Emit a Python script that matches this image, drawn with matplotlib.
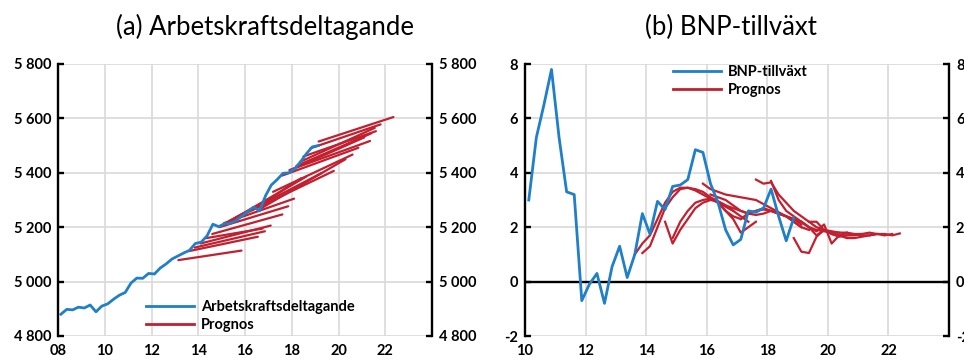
import numpy as np
import matplotlib
matplotlib.use("Agg")
import matplotlib.pyplot as plt
from matplotlib.ticker import FuncFormatter

# ---------------- data ----------------
# (a) Labour force, thousands, quarterly (first quarter 2008Q1)
ak_start = 2008.125
ak_values = [4880, 4898, 4896, 4906, 4903, 4914, 4889, 4910,
             4918, 4935, 4950, 4960, 4995, 5013, 5012, 5030,
             5028, 5050, 5065, 5083, 5094, 5105, 5115, 5140,
             5145, 5168, 5211, 5202, 5213, 5214, 5225, 5242,
             5258, 5274, 5260, 5315, 5355, 5375, 5398, 5400,
             5415, 5440, 5470, 5495, 5500]

# Forecast vintages for (a): start/end year and level
ak_fc_start_year = [2013.15, 2013.60, 2013.85, 2014.10, 2014.35, 2014.60, 2014.90,
                    2015.10, 2015.30, 2015.40, 2015.60, 2016.00, 2016.30, 2016.60,
                    2017.20, 2017.60, 2017.90, 2018.20, 2018.50, 2018.80, 2019.15,
                    2018.00, 2018.35]
ak_fc_start_val = [5079, 5112, 5125, 5140, 5160, 5175, 5200,
                   5215, 5222, 5225, 5235, 5250, 5262, 5265,
                   5330, 5390, 5410, 5425, 5460, 5490, 5515,
                   5412, 5440]
ak_fc_end_year = [2015.85, 2016.55, 2016.85, 2017.10, 2016.75, 2017.60, 2017.85,
                  2018.10, 2016.90, 2018.60, 2019.30, 2019.80, 2018.40, 2020.30,
                  2020.60, 2020.85, 2021.35, 2021.40, 2021.60, 2021.80, 2022.35,
                  2021.10, 2021.55]
ak_fc_end_val = [5114, 5165, 5185, 5206, 5195, 5247, 5277,
                 5305, 5295, 5385, 5400, 5407, 5380, 5450,
                 5467, 5492, 5517, 5545, 5553, 5578, 5605,
                 5530, 5565]

# (b) GDP growth, per cent, quarterly (first quarter 2010Q1)
bnp_start = 2010.125
bnp_values = [3.0, 5.3, 6.5, 7.8, 5.3, 3.3, 3.2, -0.7, -0.1, 0.3, -0.8, 0.55,
              1.3, 0.15, 1.0, 2.5, 1.75, 2.95, 2.65, 3.5, 3.55, 3.75, 4.85, 4.75,
              3.6, 2.9, 1.9, 1.35, 1.55, 2.6, 2.55, 2.7, 3.4, 2.4, 1.5, 2.35]

# Forecast vintages for (b): first quarter and quarterly path
bnp_fc_start = [2013.625, 2013.875, 2014.625, 2014.875, 2015.875, 2016.125,
                2016.375, 2017.125, 2017.625, 2018.125, 2018.875, 2019.125, 2019.375]
bnp_fc_paths = [
    [1.0, 1.4, 1.7, 2.3, 2.9, 3.3, 3.45, 3.45, 3.4, 3.3, 3.1, 2.95, 2.8, 2.7, 2.6, 2.5],
    [1.05, 1.3, 2.0, 2.7, 3.1, 3.4, 3.45, 3.35, 3.2, 3.05, 2.9, 2.75, 2.6],
    [2.2, 1.4, 1.9, 2.3, 2.7, 2.9, 3.0, 2.95, 2.8, 2.6, 2.4, 2.2],
    [1.6, 2.2, 2.6, 2.9, 3.0, 3.05, 2.9, 2.6, 2.3, 1.8, 2.0, 2.2],
    [3.6, 3.4, 3.3, 3.2, 3.15, 3.1, 3.05, 3.0, 2.85, 2.7, 2.55, 2.4, 2.2, 2.0],
    [3.2, 3.1, 3.0, 2.8, 2.6, 2.5, 2.45, 2.5, 2.6, 2.5, 2.4, 2.3, 2.1],
    [2.9, 2.6, 2.4, 2.3, 2.5, 2.6, 2.7, 2.6, 2.5, 2.4, 2.2, 2.0, 1.9],
    [2.3, 2.5, 2.6, 2.65, 2.6, 2.5, 2.4, 2.3, 2.2, 2.0, 1.9, 1.85, 1.8, 1.8],
    [3.75, 3.6, 3.65, 3.2, 2.9, 2.6, 2.4, 2.2, 2.0, 1.9, 1.85, 1.8, 1.8],
    [3.7, 3.0, 2.6, 2.4, 2.2, 2.0, 1.7, 1.9, 1.75, 1.65, 1.7, 1.75, 1.75],
    [1.6, 1.1, 1.05, 1.65, 1.9, 1.8, 1.7, 1.6, 1.6, 1.65, 1.7, 1.75],
    [2.2, 2.0, 1.85, 2.1, 1.4, 1.7, 1.8, 1.75, 1.7, 1.7, 1.75, 1.75, 1.7, 1.77],
    [2.2, 2.2, 1.9, 1.75, 1.7, 1.7, 1.7, 1.75, 1.8, 1.75, 1.7, 1.75],
]

ak_xticks = [2008, 2010, 2012, 2014, 2016, 2018, 2020, 2022]
bnp_xticks = [2010, 2012, 2014, 2016, 2018, 2020, 2022]

# ---------------- style ----------------
BLUE = "#1f7fc8"
RED = "#c0202f"
GRID = "#d9d9d9"
TICK_SIZE = 10.5
plt.rcParams["font.family"] = ["Lato", "DejaVu Sans"]

fig = plt.figure(figsize=(9.64, 3.6), dpi=100)
ax1 = fig.add_axes([58 / 964, 24 / 360, 374 / 964, 272 / 360])
ax2 = fig.add_axes([525 / 964, 24 / 360, 424 / 964, 272 / 360])


def style_axes(ax, xlim, ylim, xticks, yticks, fmt):
    ax.set_xlim(*xlim)
    ax.set_ylim(*ylim)
    ax.set_xticks(xticks)
    ax.set_xticklabels([f"{t % 100:02d}" for t in xticks])
    ax.set_yticks(yticks)
    ax.yaxis.set_major_formatter(FuncFormatter(fmt))
    ax.grid(True, color=GRID, linewidth=1.2)
    ax.set_axisbelow(True)
    for side in ("top", "bottom"):
        ax.spines[side].set_visible(False)
    for side in ("left", "right"):
        ax.spines[side].set_linewidth(1.7)
        ax.spines[side].set_color("black")
    ax.tick_params(axis="y", direction="in", length=4.5, width=1.7,
                   left=True, right=True, labelleft=True, labelright=True,
                   labelsize=TICK_SIZE, pad=5)
    ax.tick_params(axis="x", length=0, labelsize=TICK_SIZE, pad=6)
    for lab in ax.get_xticklabels() + ax.get_yticklabels():
        lab.set_fontweight("bold")


def thousands(v, pos):
    return f"{int(v):,}".replace(",", " ")


def plain(v, pos):
    return f"{int(v)}"


legend_kw = dict(frameon=False, handlelength=3.3, handletextpad=0.45,
                 labelspacing=0.3, prop={"weight": "bold", "size": 10.5})

# (a) Arbetskraftsdeltagande
style_axes(ax1, (2008, 2024), (4800, 5800), ak_xticks,
           np.arange(4800, 5801, 200), thousands)
for i in range(len(ak_fc_start_year)):
    ax1.plot([ak_fc_start_year[i], ak_fc_end_year[i]],
             [ak_fc_start_val[i], ak_fc_end_val[i]],
             color=RED, linewidth=1.6, solid_capstyle="round")
ak_x = ak_start + 0.25 * np.arange(len(ak_values))
ax1.plot(ak_x, ak_values, color=BLUE, linewidth=2.0)
h_blue, = ax1.plot([], [], color=BLUE, linewidth=2.0, label="Arbetskraftsdeltagande")
h_red, = ax1.plot([], [], color=RED, linewidth=2.0, label="Prognos")
ax1.legend(handles=[h_blue, h_red], loc="lower left",
           bbox_to_anchor=(0.2, -0.035), **legend_kw)

# (b) BNP-tillväxt
style_axes(ax2, (2010, 2024), (-2, 8), bnp_xticks,
           np.arange(-2, 9, 2), plain)
ax2.axhline(0, color="black", linewidth=1.7, zorder=1.5)
for s, path in zip(bnp_fc_start, bnp_fc_paths):
    x = s + 0.25 * np.arange(len(path))
    ax2.plot(x, path, color=RED, linewidth=1.6)
bnp_x = bnp_start + 0.25 * np.arange(len(bnp_values))
ax2.plot(bnp_x, bnp_values, color=BLUE, linewidth=2.0)
h_blue2, = ax2.plot([], [], color=BLUE, linewidth=2.0, label="BNP-tillväxt")
h_red2, = ax2.plot([], [], color=RED, linewidth=2.0, label="Prognos")
ax2.legend(handles=[h_blue2, h_red2], loc="upper left",
           bbox_to_anchor=(0.318, 1.045), **legend_kw)

# panel titles
fig.text(265 / 964, 1 - 27 / 360, "(a) Arbetskraftsdeltagande",
         ha="center", va="center", fontsize=18.5)
fig.text(731 / 964, 1 - 27 / 360, "(b) BNP-tillväxt",
         ha="center", va="center", fontsize=18.5)

fig.savefig("out.png", dpi=100)
